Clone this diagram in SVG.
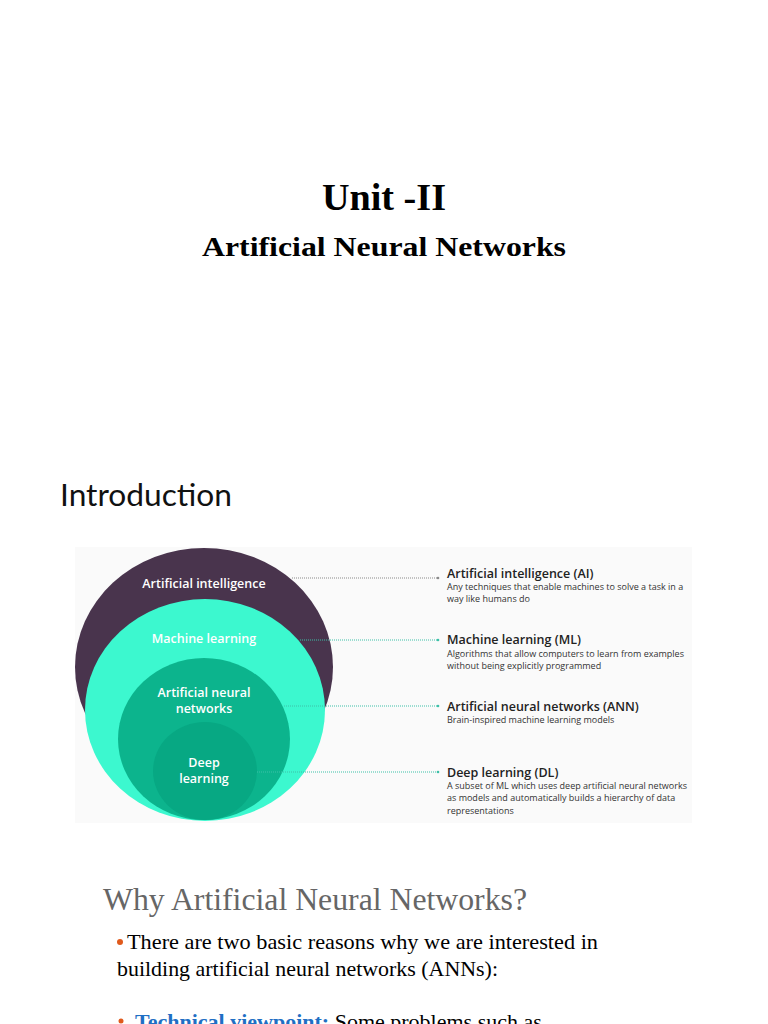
<svg xmlns="http://www.w3.org/2000/svg" width="768" height="1024" viewBox="0 0 768 1024">
<style>
.ser{font-family:"Liberation Serif","Times New Roman",serif}
.ctext{font-family:"Open Sans","Noto Sans",sans-serif;font-weight:600;fill:#ffffff;text-anchor:middle;font-size:12.5px}
.rt{font-family:"Open Sans","Noto Sans",sans-serif;font-weight:600;fill:#222;font-size:12.5px}
.rd{font-family:"Open Sans","Noto Sans",sans-serif;fill:#333;font-size:9px}
.dot{stroke-width:1;stroke-dasharray:1 1;fill:none}
</style>
<rect width="768" height="1024" fill="#ffffff"/>
<text class="ser" x="322" y="210" font-size="37" font-weight="bold" fill="#000" textLength="124" lengthAdjust="spacingAndGlyphs">Unit -II</text>
<text class="ser" x="202" y="256" font-size="28" font-weight="bold" fill="#000" textLength="364" lengthAdjust="spacingAndGlyphs">Artificial Neural Networks</text>
<text x="60" y="506" font-family="Lato,'Open Sans',sans-serif" font-size="31" fill="#111" textLength="172" lengthAdjust="spacingAndGlyphs">Introduction</text>
<rect x="75" y="547" width="617" height="276" fill="#fafafa"/>
<g id="ai"><ellipse cx="204" cy="667" rx="129" ry="119" fill="#49344d"/><text class="ctext" x="204" y="588">Artificial intelligence</text></g>
<g id="ml"><ellipse cx="205" cy="710" rx="120" ry="111" fill="#3cf8cf"/><text class="ctext" x="204" y="643" fill="#f0fffa">Machine learning</text></g>
<g id="ann"><ellipse cx="204" cy="739" rx="86" ry="81" fill="#0cb48d"/><text class="ctext" x="204" y="697">Artificial neural</text><text class="ctext" x="204" y="713">networks</text></g>
<g id="dl"><ellipse cx="205" cy="771" rx="52" ry="49" fill="#07a883"/><text class="ctext" x="204" y="767">Deep</text><text class="ctext" x="204" y="783">learning</text></g>
<g id="connectors">
<line class="dot" x1="292" y1="578" x2="437" y2="578" stroke="#8a8a8a"/><circle cx="438" cy="578" r="1.3" fill="#8a8a8a"/>
<line class="dot" x1="300" y1="640" x2="437" y2="640" stroke="#3cc0a8"/><circle cx="438" cy="640" r="1.3" fill="#3cc0a8"/>
<line class="dot" x1="284" y1="706" x2="437" y2="706" stroke="#3cc0a8"/><circle cx="438" cy="706" r="1.3" fill="#3cc0a8"/>
<line class="dot" x1="257" y1="772" x2="437" y2="772" stroke="#3cc0a8"/><circle cx="438" cy="772" r="1.3" fill="#3cc0a8"/>
</g>
<g id="lab-ai"><text class="rt" x="447" y="578">Artificial intelligence (AI)</text><text class="rd" x="447" y="590">Any techniques that enable machines to solve a task in a</text><text class="rd" x="447" y="602">way like humans do</text></g>
<g id="lab-ml"><text class="rt" x="447" y="644">Machine learning (ML)</text><text class="rd" x="447" y="657">Algorithms that allow computers to learn from examples</text><text class="rd" x="447" y="669">without being explicitly programmed</text></g>
<g id="lab-ann"><text class="rt" x="447" y="711">Artificial neural networks (ANN)</text><text class="rd" x="447" y="723">Brain-inspired machine learning models</text></g>
<g id="lab-dl"><text class="rt" x="447" y="777">Deep learning (DL)</text><text class="rd" x="447" y="789">A subset of ML which uses deep artificial neural networks</text><text class="rd" x="447" y="801">as models and automatically builds a hierarchy of data</text><text class="rd" x="447" y="814">representations</text></g>
<text class="ser" x="103" y="910" font-size="31.5" fill="#666" textLength="424" lengthAdjust="spacingAndGlyphs">Why Artificial Neural Networks?</text>
<circle cx="120" cy="942" r="3" fill="#e05a1c"/>
<text class="ser" x="127" y="949" font-size="22" fill="#000" textLength="471" lengthAdjust="spacingAndGlyphs">There are two basic reasons why we are interested in</text>
<text class="ser" x="117" y="976" font-size="22" fill="#000" textLength="381" lengthAdjust="spacingAndGlyphs">building artificial neural networks (ANNs):</text>
<circle cx="121" cy="1021" r="2.5" fill="#e05a1c"/>
<text class="ser" x="135" y="1029" font-size="22" fill="#000"><tspan font-weight="bold" fill="#1f6fc4">Technical viewpoint:</tspan> Some problems such as</text>
</svg>
